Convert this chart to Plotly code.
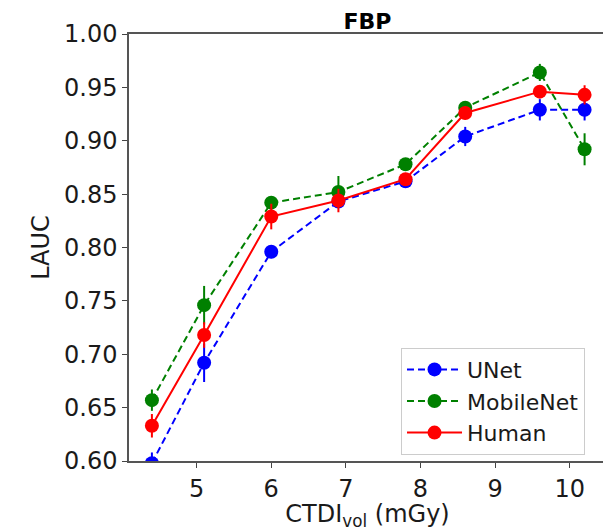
import plotly.graph_objects as go

ctdi = [4.4, 5.1, 6.0, 6.9, 7.8, 8.6, 9.6, 10.2]

unet = [0.598, 0.692, 0.796, 0.843, 0.862, 0.904, 0.929, 0.929]
unet_err = [0.010, 0.018, 0.006, 0.005, 0.004, 0.009, 0.010, 0.010]

mobilenet = [0.657, 0.746, 0.842, 0.852, 0.878, 0.931, 0.964, 0.892]
mobilenet_err = [0.010, 0.018, 0.005, 0.015, 0.005, 0.005, 0.008, 0.015]

human = [0.633, 0.718, 0.829, 0.844, 0.864, 0.926, 0.946, 0.943]
human_err = [0.011, 0.012, 0.012, 0.011, 0.005, 0.006, 0.006, 0.009]

series = [
    ("UNet", unet, unet_err, "#0000ff", "7px,4px"),
    ("MobileNet", mobilenet, mobilenet_err, "#008000", "7px,4px"),
    ("Human", human, human_err, "#ff0000", "solid"),
]

FONT = "DejaVu Sans"
W, H = 603, 523  # page body has an 8px margin
fig = go.Figure()
for name, ys, errs, color, dash in series:
    fig.add_trace(go.Scatter(
        x=ctdi, y=ys, name=name, mode="lines+markers",
        line=dict(color=color, width=2, dash=dash),
        marker=dict(color=color, size=14),
        error_y=dict(type="data", array=errs, visible=True, color=color,
                     thickness=2, width=0),
    ))

fig.update_layout(
    width=W, height=H,
    margin=dict(l=121, r=5, t=26, b=70, autoexpand=False),
    paper_bgcolor="white", plot_bgcolor="white",
    font=dict(family=FONT, color="#1a1a1a", size=22),
    title=dict(text="<b>FBP</b>", x=0.5, xref="paper", xanchor="center",
               y=1 - 13 / H, yanchor="middle",
               font=dict(family=FONT, size=22, color="black")),
    legend=dict(x=0.956, xanchor="right", y=0.015, yanchor="bottom",
                bgcolor="white", bordercolor="#cccccc", borderwidth=1,
                font=dict(family=FONT, size=22, color="#1a1a1a"),
                itemwidth=55, tracegroupgap=4),
    showlegend=True,
)

fig.update_xaxes(
    range=[4.093, 10.487], tickvals=[5, 6, 7, 8, 9, 10],
    ticks="outside", ticklen=5, tickcolor="#444", tickwidth=1,
    showline=True, linecolor="#555", linewidth=1.5, mirror=True,
    showgrid=False, zeroline=False, automargin=False,
    tickfont=dict(family=FONT, size=24, color="#1a1a1a"),
    title=dict(text="CTDI<sub>vol</sub> (mGy)", standoff=5,
               font=dict(family=FONT, size=24, color="#1a1a1a")),
)
fig.update_yaxes(
    range=[0.6, 1.0], tickvals=[0.60, 0.65, 0.70, 0.75, 0.80, 0.85, 0.90, 0.95, 1.00],
    tickformat=".2f",
    ticks="outside", ticklen=5, tickcolor="#444", tickwidth=1,
    showline=True, linecolor="#555", linewidth=1.5, mirror=True,
    showgrid=False, zeroline=False, automargin=False,
    tickfont=dict(family=FONT, size=24, color="#1a1a1a"),
    title=dict(text="LAUC", standoff=8,
               font=dict(family=FONT, size=24, color="#1a1a1a")),
)

fig.write_html("out.html")
